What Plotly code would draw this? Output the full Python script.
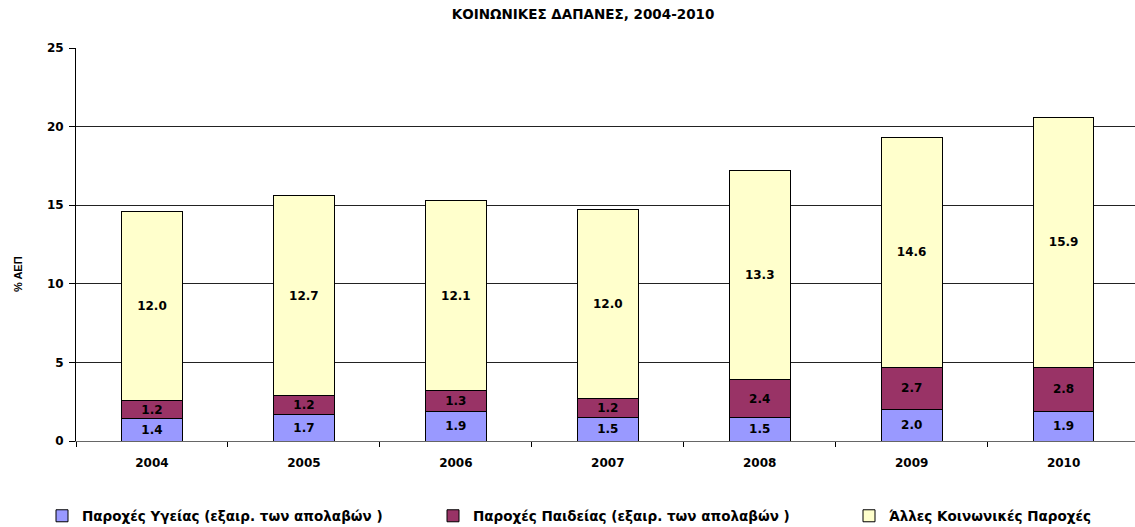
import plotly.graph_objects as go

years = ["2004", "2005", "2006", "2007", "2008", "2009", "2010"]
health = [1.4, 1.7, 1.9, 1.5, 1.5, 2.0, 1.9]
education = [1.2, 1.2, 1.3, 1.2, 2.4, 2.7, 2.8]
other = [12.0, 12.7, 12.1, 12.0, 13.3, 14.6, 15.9]

names = ["Παροχές Υγείας (εξαιρ. των απολαβών )",
         "Παροχές Παιδείας (εξαιρ. των απολαβών )",
         "Άλλες Κοινωνικές Παροχές"]
colors = ["#9999FF", "#993366", "#FFFFCC"]
legend_ids = ["legend", "legend2", "legend3"]
legend_x = [42, 433, 849]  # pixel left edges of legend boxes

WIDE = "DejaVu Sans, Verdana, sans-serif"
NARROW = "Liberation Sans, Arial, sans-serif"
W, H = 1135, 527

fig = go.Figure()
for vals, name, col, lg in zip([health, education, other], names, colors, legend_ids):
    fig.add_trace(go.Bar(
        x=years, y=vals, name=name, legend=lg,
        marker=dict(color=col, line=dict(color="black", width=1)),
        width=0.4,
        texttemplate="%{y:.1f}", textposition="inside",
        insidetextanchor="middle", textangle=0, constraintext="none",
        textfont=dict(family=WIDE, size=12, color="black", weight="bold"),
    ))

legend_common = dict(orientation="h", xref="container", yref="container",
                     xanchor="left", y=1 - 516 / H, yanchor="middle",
                     font=dict(family=WIDE, size=13.5, color="black", weight="bold"),
                     itemwidth=30, bgcolor="rgba(0,0,0,0)")

fig.update_layout(
    barmode="stack",
    width=W, height=H,
    margin=dict(l=76, r=0, t=48, b=86, autoexpand=False),
    paper_bgcolor="white", plot_bgcolor="white",
    font=dict(family=WIDE, color="black"),
    title=dict(text="ΚΟΙΝΩΝΙΚΕΣ ΔΑΠΑΝΕΣ, 2004-2010", x=583 / W, xanchor="center",
               xref="container", y=1 - 14 / H, yanchor="middle",
               font=dict(family=WIDE, size=13.5, weight="bold", color="black")),
    showlegend=True,
    legend=dict(x=legend_x[0] / W, **legend_common),
    legend2=dict(x=legend_x[1] / W, **legend_common),
    legend3=dict(x=legend_x[2] / W, **legend_common),
    annotations=[dict(text="% ΑΕΠ", textangle=-90, showarrow=False,
                      xref="paper", yref="paper",
                      x=-58 / (W - 76), y=(441 - 274) / (441 - 48),
                      xanchor="center", yanchor="middle",
                      font=dict(family=NARROW, size=11, weight="bold", color="black"))],
)
fig.update_xaxes(
    type="category", range=[-0.5, 6.47],
    showline=True, linecolor="#666", linewidth=1,
    ticks="outside", tickson="boundaries", ticklen=5, tickcolor="black",
    ticklabelstandoff=11,
    tickfont=dict(family=WIDE, size=12, weight="bold", color="black"),
    showgrid=False,
)
fig.update_yaxes(
    range=[0, 25], dtick=5,
    showline=True, linecolor="black", linewidth=1,
    ticks="outside", ticklen=6, tickcolor="black",
    ticklabelstandoff=3,
    tickfont=dict(family=WIDE, size=12, weight="bold", color="black"),
    showgrid=True, gridcolor="#222", gridwidth=1,
    zeroline=False,
)

fig.write_html("out.html", config={"displayModeBar": False},
               post_script="document.body.style.margin='0';")
